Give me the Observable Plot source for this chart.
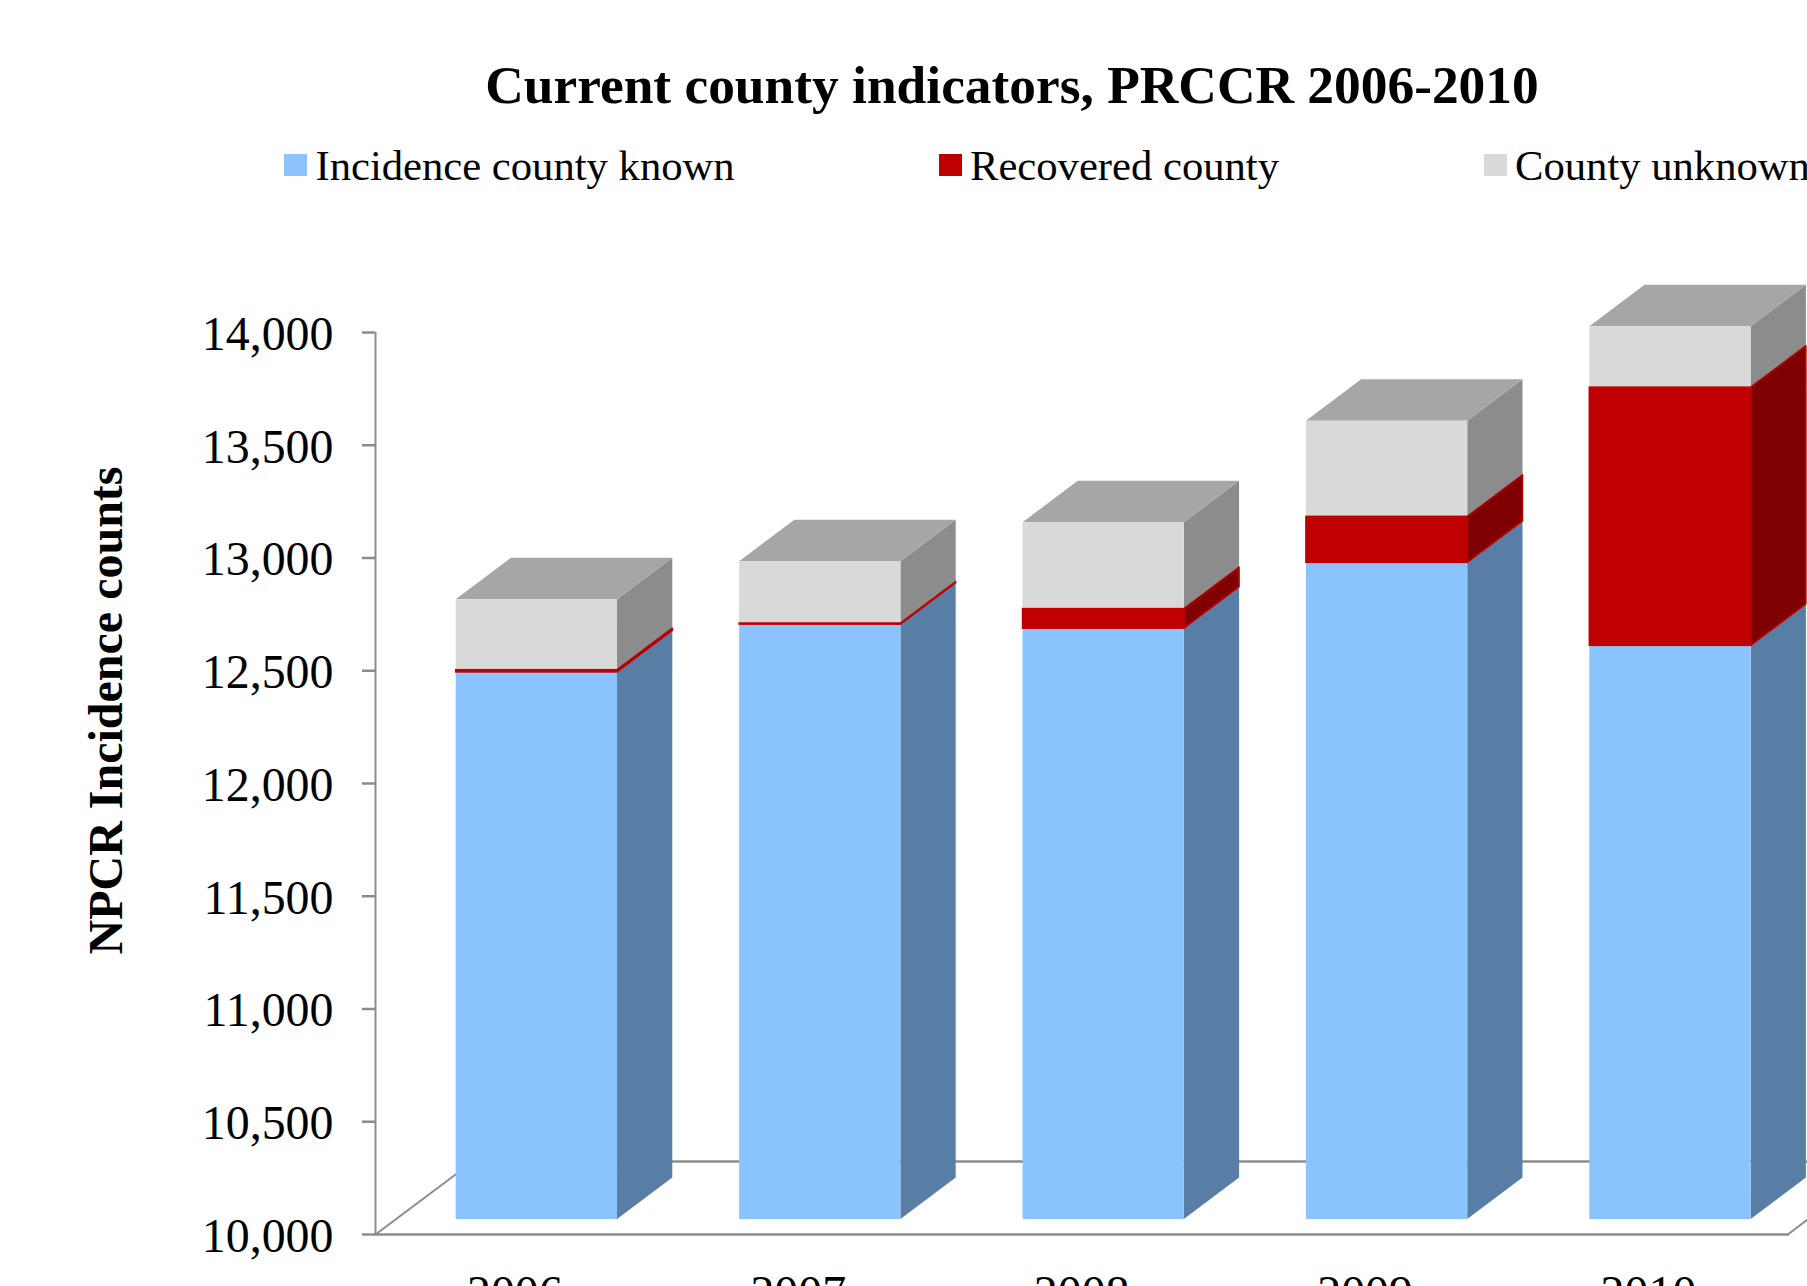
<!DOCTYPE html>
<html><head><meta charset="utf-8">
<script src="https://cdn.jsdelivr.net/npm/d3@7"></script>
<script src="https://cdn.jsdelivr.net/npm/@observablehq/plot@0.6"></script>
<style>
html,body{margin:0;padding:0;background:#fff;width:1807px;height:1286px;overflow:hidden;font-family:"Liberation Serif",serif;color:#000}
#head{position:relative;width:1807px;height:250px;overflow:hidden}
#title{position:absolute;left:0;top:53px;width:2024px;text-align:center;font-weight:bold;font-size:53.4px;line-height:64px;white-space:nowrap}
.sw{position:absolute;top:154px;width:23px;height:22px}
.lb{position:absolute;top:142px;font-size:42.65px;line-height:48px;white-space:nowrap}
svg{display:block}
</style></head><body>
<div id="head"><div id="title">Current county indicators, PRCCR 2006-2010</div></div>
<div id="chart"></div>
<script>
const years = ["2006","2007","2008","2009","2010"];
const known = [12426,12638,12620,12912,12544];
const recovered = [10,5,87,204,1145];
const unknown = [312,274,383,424,270];
const seriesNames = ["Incidence county known","Recovered county","County unknown"];
const yTicks = [10000,10500,11000,11500,12000,12500,13000,13500,14000];
const frontColors = ["#8AC3FF","#C00000","#D9D9D9"];
const sideColors = ["#597EA6","#7F0000","#8C8C8C"];
const topColor = "#A6A6A6";
const axisColor = "#8C8C8C";
const legendSwatchX = [283.5,939,1484];
const legendTextX = [315.5,970,1515];

// projection constants (category units / value units)
const halfBar = 0.2846, depthX = 0.195, depthY = 184, lift = 66.5;
const floorDepthX = 0.344, floorDepthY = 324;
const xDomain = [-0.5694, 4.4835], floorRight = 4.414;

const head = document.getElementById("head");
seriesNames.forEach((n,i)=>{
  const s=document.createElement("div");s.className="sw";s.style.left=legendSwatchX[i]+"px";s.style.background=frontColors[i];head.appendChild(s);
  const t=document.createElement("div");t.className="lb";t.style.left=legendTextX[i]+"px";t.textContent=n;head.appendChild(t);
});

const fronts=[], sides=[], tops=[];
years.forEach((yr,i)=>{
  const segs=[known[i],recovered[i],unknown[i]];
  let v0=10000+lift;
  segs.forEach((sv,j)=>{
    const base = v0;
    const v1 = j===0 ? sv+lift : v0+sv;
    fronts.push({i,j,x1:i-halfBar,x2:i+halfBar,y1:base,y2:v1});
    const r=i+halfBar, id=i+"-"+j;
    sides.push({id,j,x:r,y1:base,y2:v1},{id,j,x:r+depthX,y1:base+depthY,y2:v1+depthY});
    v0=v1;
  });
  tops.push({id:i,y:v0,x1:i-halfBar,x2:i+halfBar},{id:i,y:v0+depthY,x1:i-halfBar+depthX,x2:i+halfBar+depthX});
});
const edge=j=>j===1?"#C00000":"none";
const floorFront=[{x:xDomain[0],y:10000},{x:floorRight,y:10000}];
const floorBack=[{x:xDomain[0]+floorDepthX,y:10000+floorDepthY},{x:xDomain[1]+1,y:10000+floorDepthY}];
const floorLeft=[floorFront[0],floorBack[0]];
const floorRightEdge=[floorFront[1],{x:floorRight+floorDepthX,y:10000+floorDepthY}];
const order=[0,2,1];

const plot = Plot.plot({
  width:1807,height:1036,marginLeft:375,marginRight:0,marginTop:82,marginBottom:52,
  style:{fontFamily:'"Liberation Serif",serif',background:"#fff",color:"#000"},
  x:{type:"linear",domain:xDomain,axis:null},
  y:{domain:[10000,14000],axis:null},
  marks:[
    Plot.line(floorFront,{x:"x",y:"y",stroke:axisColor,strokeWidth:2.5}),
    Plot.line(floorBack,{x:"x",y:"y",stroke:axisColor,strokeWidth:2.5}),
    Plot.line(floorLeft,{x:"x",y:"y",stroke:axisColor,strokeWidth:2}),
    Plot.line(floorRightEdge,{x:"x",y:"y",stroke:axisColor,strokeWidth:2}),
    Plot.ruleX([xDomain[0]],{y1:10000,y2:14000,stroke:axisColor,strokeWidth:2}),
    Plot.axisY({ticks:yTicks,tickFormat:()=>"",tickSize:13,stroke:axisColor,strokeWidth:2.5,strokeOpacity:1,label:null}),
    Plot.axisY({ticks:yTicks,tickFormat:d=>d3.format(",")(d),tickSize:0,tickPadding:42,dy:2,fontSize:47.9,fill:"#000",label:null}),
    Plot.axisX({ticks:[0,1,2,3,4],tickFormat:d=>years[d],tickSize:0,tickPadding:40,fontSize:47.9,dx:-22,fill:"#000",label:null}),
    Plot.text(["NPCR Incidence counts"],{frameAnchor:"left",textAnchor:"middle",rotate:-90,dx:-269,dy:-73,fontSize:48,fontWeight:"bold",fill:"#000"}),
    ...order.map(j=>Plot.areaY(sides.filter(d=>d.j===j),{x:"x",y1:"y1",y2:"y2",z:"id",fill:sideColors[j],stroke:edge(j),strokeWidth:1.5,curve:"linear"})),
    Plot.areaX(tops,{y:"y",x1:"x1",x2:"x2",z:"id",fill:topColor}),
    ...order.map(j=>Plot.rect(fronts.filter(d=>d.j===j),{x1:"x1",x2:"x2",y1:"y1",y2:"y2",fill:frontColors[j],stroke:edge(j),strokeWidth:1.5})),
  ]
});
document.getElementById("chart").appendChild(plot);
</script>
</body></html>
